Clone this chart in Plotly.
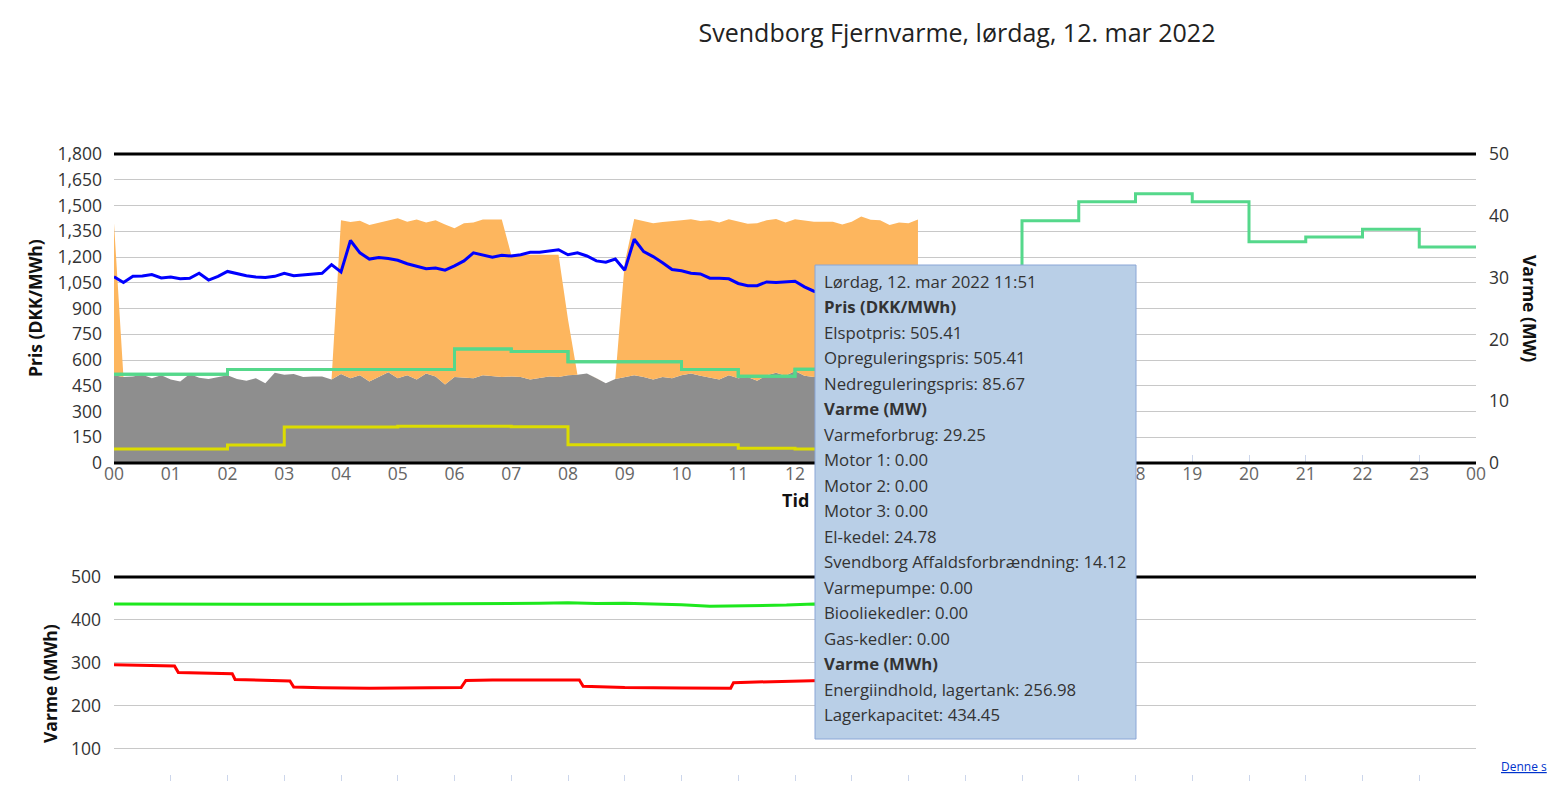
import pandas as pd
import plotly.graph_objects as go

DAG = "2022-03-12"

# Priser (DKK/MWh), en værdi pr. time fra kl. 00
ELSPOTPRIS = [517, 517, 545, 545, 545, 545, 664, 650, 590, 590, 544, 505.41,
              546, 560, 640, 780, 1411, 1522, 1569, 1522, 1289, 1316, 1361, 1258]
OPREGULERINGSPRIS = [517, 517, 545, 545, 545, 545, 664, 650, 590, 590, 544, 505.41, 546, 560]
NEDREGULERINGSPRIS = [82, 82, 105, 210, 210, 214, 214, 211, 107, 107, 107, 85.67, 81, 80]

# Varme (MW), en værdi pr. 10 minutter fra kl. 00:00
VARMEFORBRUG = [30.15, 29.2, 30.2, 30.25, 30.5, 29.95, 30.1, 29.8, 29.9, 30.7,
                29.6, 30.2, 31.0, 30.6, 30.3, 30.1, 30.0, 30.2, 30.7, 30.3,
                30.4, 30.6, 30.7, 32.1, 30.9, 36.0, 34.0, 33.0, 33.25, 33.1,
                32.8, 32.25, 31.8, 31.45, 31.55, 31.2, 31.9, 32.7, 34.0, 33.6,
                33.3, 33.6, 33.5, 33.7, 34.1, 34.1, 34.3, 34.5, 33.7, 34.0,
                33.5, 32.7, 32.5, 33.0, 31.2, 36.2, 34.2, 33.4, 32.4, 31.3,
                31.1, 30.7, 30.6, 29.9, 29.9, 29.8, 29.05, 28.7, 28.7, 29.3,
                29.2, 29.25, 29.4, 28.5, 27.8, 27.5, 27.8, 28.0, 28.2, 28.0,
                28.3, 28.5, 28.4, 28.6, 28.8, 29.0]
AFFALD = [14.2, 13.9, 14.0, 14.3, 13.7, 14.2, 13.5, 13.2, 14.4, 13.8,
          13.6, 13.9, 14.2, 13.6, 13.3, 13.7, 12.9, 14.6, 14.3, 14.4,
          13.9, 14.0, 14.0, 13.5, 14.4, 13.7, 14.2, 13.2, 13.9, 14.7,
          13.7, 14.2, 13.5, 14.5, 14.0, 12.7, 13.9, 13.8, 13.7, 14.2,
          14.1, 13.9, 14.0, 13.9, 13.5, 13.7, 14.0, 13.9, 14.2, 14.3,
          14.5, 13.7, 12.9, 13.6, 13.9, 14.2, 13.9, 13.5, 13.9, 13.7,
          14.2, 14.5, 14.1, 13.8, 13.5, 14.2, 13.7, 13.9, 13.3, 14.2,
          14.6, 14.12, 14.9, 14.1, 13.9, 14.0, 13.8, 14.2, 13.9, 14.1,
          13.7, 14.0, 14.3, 13.9, 14.1, 14.0]
EL_KEDEL = [24.6, 0, 0, 0, 0, 0, 0, 0, 0, 0,
            0, 0, 0, 0, 0, 0, 0, 0, 0, 0,
            0, 0, 0, 0, 24.9, 25.3, 25.0, 25.3, 25.0, 24.6,
            25.9, 24.85, 25.9, 24.4, 25.3, 25.9, 24.1, 25.0, 25.2, 25.2,
            25.3, 25.5, 19.7, 19.8, 20.2, 20.0, 19.7, 19.8, 9.0, 0,
            0, 0, 0, 0, 18.5, 25.3, 25.3, 25.3, 25.1, 25.5,
            25.1, 24.95, 25.05, 25.5, 25.4, 25.25, 25.35, 24.8, 25.5, 25.1,
            24.9, 24.78, 24.55, 25.1, 25.15, 25.05, 25.25, 24.4, 25.15, 25.8,
            25.65, 25.3, 24.2, 25.0, 24.7, 25.4]

# Varme (MWh)
LAGERTANK_TID = ["00:00", "00:30", "01:00", "01:04", "01:08", "01:30", "02:00", "02:05", "02:08",
                 "02:30", "03:00", "03:06", "03:10", "03:40", "04:30", "05:00", "05:30", "06:00",
                 "06:07", "06:12", "06:40", "07:30", "08:00", "08:12", "08:16", "09:00", "10:00",
                 "10:45", "10:52", "10:55", "11:30", "11:51", "12:20", "13:00", "13:30", "14:10"]
LAGERTANK_MWH = [295.5, 294.5, 293.0, 292.5, 277.0, 276.5, 275.0, 274.5, 261.0,
                 260.0, 258.0, 257.5, 243.5, 241.5, 240.5, 241.0, 241.0, 241.5,
                 242.0, 258.5, 259.5, 259.5, 260.5, 259.5, 245.0, 242.0, 241.0,
                 240.0, 240.5, 253.5, 255.5, 256.98, 259.5, 260.5, 261.0, 262.0]
KAPACITET_TID = ["00:00", "01:00", "02:00", "03:00", "04:00", "05:00", "06:00", "06:30", "07:00",
                 "07:30", "08:00", "08:30", "09:00", "09:30", "10:00", "10:30", "11:00", "11:30",
                 "11:51", "12:20", "13:00", "14:10"]
KAPACITET_MWH = [437.2, 437.5, 437.5, 436.5, 436.5, 437.0, 437.0, 438.5, 438.0,
                 438.7, 440.0, 438.0, 439.0, 437.5, 435.5, 431.5, 432.0, 433.5,
                 434.45, 437.0, 436.0, 437.0]

# hour labels; the ones hidden behind the tooltip are left blank
TIME_LABELS = ["00", "01", "02", "03", "04", "05", "06", "07", "08", "09", "10", "11", "12",
               "", "", "", "", "", "18", "19", "20", "21", "22", "23", "00"]

TOOLTIP = [
    "Lørdag, 12. mar 2022 11:51",
    "<b>Pris (DKK/MWh)</b>",
    "Elspotpris: 505.41",
    "Opreguleringspris: 505.41",
    "Nedreguleringspris: 85.67",
    "<b>Varme (MW)</b>",
    "Varmeforbrug: 29.25",
    "Motor 1: 0.00",
    "Motor 2: 0.00",
    "Motor 3: 0.00",
    "El-kedel: 24.78",
    "Svendborg Affaldsforbrændning: 14.12",
    "Varmepumpe: 0.00",
    "Biooliekedler: 0.00",
    "Gas-kedler: 0.00",
    "<b>Varme (MWh)</b>",
    "Energiindhold, lagertank: 256.98",
    "Lagerkapacitet: 434.45",
]

# page is shown with an 8px body margin; positions below are page pixels
OFF = 8
W, H = 1555 - 2 * OFF, 789 - 2 * OFF
ML, MT, MB = 114 - OFF, 154 - OFF, 0
MR = W - (1476 - OFF)
PW, PH = W - ML - MR, H - MT - MB


def px(x):
    return (x - OFF - ML) / PW


def py(y):
    return (H - MB - (y - OFF)) / PH


timer = pd.date_range(DAG, periods=25, freq="h")
t10 = pd.date_range(DAG, periods=len(VARMEFORBRUG), freq="10min")


def klok(tider):
    return pd.to_datetime([f"{DAG} {t}" for t in tider])


def step(values):
    return timer[:len(values) + 1], list(values) + [values[-1]]


fig = go.Figure()

# stacked production areas + heat demand (right axis, MW)
fig.add_trace(go.Scatter(x=t10, y=AFFALD, name="Svendborg Affaldsforbrændning", mode="lines",
                         stackgroup="varme", line=dict(width=0), fillcolor="#8e8e8e",
                         xaxis="x", yaxis="y"))
fig.add_trace(go.Scatter(x=t10, y=EL_KEDEL, name="El-kedel", mode="lines",
                         stackgroup="varme", line=dict(width=0), fillcolor="#fdb65e",
                         xaxis="x", yaxis="y"))
fig.add_trace(go.Scatter(x=t10, y=VARMEFORBRUG, name="Varmeforbrug", mode="lines",
                         line=dict(color="#0000ff", width=3), xaxis="x", yaxis="y"))

# prices (left axis, DKK/MWh)
for name, vals, color in [("Opreguleringspris", OPREGULERINGSPRIS, "#55d88b"),
                          ("Nedreguleringspris", NEDREGULERINGSPRIS, "#dcdc00"),
                          ("Elspotpris", ELSPOTPRIS, "#55d88b")]:
    xs, ys = step(vals)
    fig.add_trace(go.Scatter(x=xs, y=ys, name=name, mode="lines",
                             line=dict(color=color, width=3, shape="hv"),
                             xaxis="x", yaxis="y2"))

# storage tank (bottom chart)
fig.add_trace(go.Scatter(x=klok(KAPACITET_TID), y=KAPACITET_MWH, name="Lagerkapacitet",
                         mode="lines", line=dict(color="#1ee81e", width=3),
                         xaxis="x2", yaxis="y3"))
fig.add_trace(go.Scatter(x=klok(LAGERTANK_TID), y=LAGERTANK_MWH, name="Energiindhold, lagertank",
                         mode="lines", line=dict(color="#ff0000", width=3),
                         xaxis="x2", yaxis="y3"))

tickfont = dict(size=17.5, color="#333333")
grid = dict(showgrid=True, gridcolor="#c8c8c8", gridwidth=1.3, zeroline=False)
xrange = [f"{DAG} 00:00", "2022-03-13 00:00"]

shapes = [
    dict(type="line", xref="paper", yref="paper", x0=0, x1=1, y0=py(154), y1=py(154),
         line=dict(color="black", width=3)),
    dict(type="line", xref="paper", yref="paper", x0=0, x1=1, y0=py(463), y1=py(463),
         line=dict(color="black", width=3)),
    dict(type="line", xref="paper", yref="paper", x0=0, x1=1, y0=py(577), y1=py(577),
         line=dict(color="black", width=3)),
    # tooltip box
    dict(type="rect", xref="paper", yref="paper", x0=px(815), x1=px(1136), y0=py(739), y1=py(265),
         fillcolor="#b9cfe7", line=dict(color="#8aa6d6", width=1)),
]

title_font = dict(size=17.5, color="#111111")
annotations = [
    dict(text="<b>Pris (DKK/MWh)</b>", x=px(35), y=py(308), textangle=-90, font=title_font),
    dict(text="<b>Varme (MW)</b>", x=px(1530), y=py(308), textangle=90, font=title_font),
    dict(text="<b>Varme (MWh)</b>", x=px(50), y=py(684), textangle=-90, font=title_font),
    dict(text="<b>Tid</b>", x=px(795), y=py(500), font=dict(size=18, color="#111111")),
    dict(text='<span style="text-decoration:underline">Denne s</span>', x=px(1499), y=py(766),
         xanchor="left", font=dict(size=12, color="#0033cc")),
]
for i, line in enumerate(TOOLTIP):
    annotations.append(dict(text=line, x=px(822), y=py(281 + i * 25.5), xanchor="left",
                            font=dict(size=16.8, color="#333333")))
for a in annotations:
    a.update(xref="paper", yref="paper", showarrow=False)
    a.setdefault("xanchor", "center")
    a.setdefault("yanchor", "middle")

fig.update_layout(
    width=W, height=H,
    margin=dict(l=ML, r=MR, t=MT, b=MB, pad=0, autoexpand=False),
    font=dict(family="Open Sans, Arial, sans-serif", size=15, color="#333333"),
    paper_bgcolor="white", plot_bgcolor="white",
    showlegend=False,
    title=dict(text="Svendborg Fjernvarme, lørdag, 12. mar 2022", x=px(957), xref="paper",
               xanchor="center", y=1 - (33 - OFF) / H, yref="container", yanchor="middle",
               font=dict(size=25, color="#222222")),
    xaxis=dict(type="date", range=xrange, domain=[0, 1], anchor="y", automargin=False,
               tickvals=timer, ticktext=TIME_LABELS, ticks="inside", ticklen=8,
               tickcolor="#ccd6eb", tickfont=dict(size=17.5, color="#666666"),
               ticklabelstandoff=-2, showgrid=False, layer="below traces"),
    xaxis2=dict(type="date", range=xrange, domain=[0, 1], anchor="y3", matches="x",
                automargin=False, tickvals=timer, ticks="inside", ticklen=6,
                tickcolor="#ccd6eb", showticklabels=False, showgrid=False),
    yaxis=dict(domain=[py(463), 1], anchor="x", side="right", range=[0, 50], dtick=10,
               automargin=False, showgrid=False, zeroline=False, tickfont=tickfont,
               ticklabelstandoff=12),
    yaxis2=dict(overlaying="y", anchor="x", side="left", range=[0, 1800], dtick=150,
                automargin=False, tickformat=",", tickfont=tickfont, ticklabelstandoff=11,
                **grid),
    yaxis3=dict(domain=[0, py(577)], anchor="x2", range=[24, 500], tick0=0, dtick=100,
                automargin=False, tickfont=tickfont, ticklabelstandoff=12, **grid),
    shapes=shapes,
    annotations=annotations,
)

fig.write_html("out.html")
